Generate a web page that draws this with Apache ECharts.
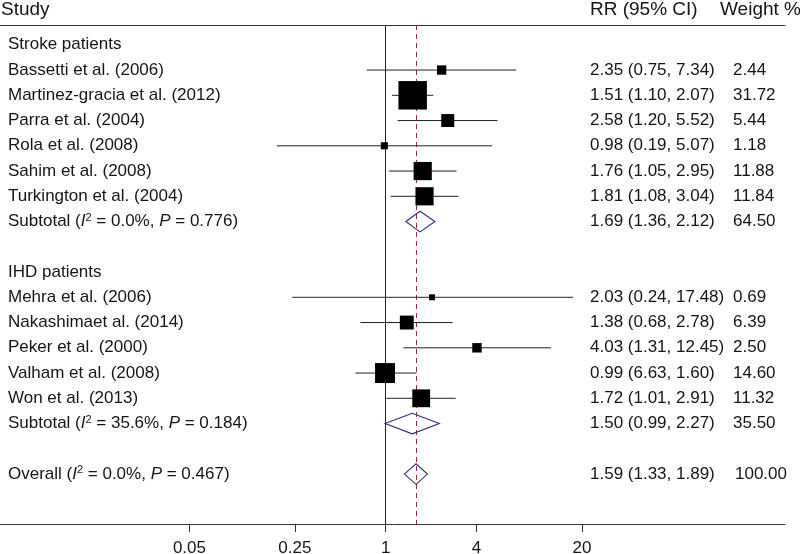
<!DOCTYPE html>
<html><head><meta charset="utf-8">
<script src="https://cdn.jsdelivr.net/npm/echarts@6/dist/echarts.min.js"></script>
<style>html,body{margin:0;padding:0;background:#fff}#c{width:800px;height:554px}</style>
</head><body><div id="c"></div>
<script>
// ---------------- data ----------------
const groupNames = ['Stroke patients', 'IHD patients'];

const strokeStudies = ['Bassetti et al. (2006)', 'Martinez-gracia et al. (2012)', 'Parra et al. (2004)', 'Rola et al. (2008)', 'Sahim et al. (2008)', 'Turkington et al. (2004)'];
const strokeRR     = [2.35, 1.51, 2.58, 0.98, 1.76, 1.81];
const strokeLow    = [0.75, 1.10, 1.20, 0.19, 1.05, 1.08];
const strokeHigh   = [7.34, 2.07, 5.52, 5.07, 2.95, 3.04];
const strokeWeight = [2.44, 31.72, 5.44, 1.18, 11.88, 11.84];
const strokeCIText = ['2.35 (0.75, 7.34)', '1.51 (1.10, 2.07)', '2.58 (1.20, 5.52)', '0.98 (0.19, 5.07)', '1.76 (1.05, 2.95)', '1.81 (1.08, 3.04)'];

const ihdStudies = ['Mehra et al. (2006)', 'Nakashimaet al. (2014)', 'Peker et al. (2000)', 'Valham et al. (2008)', 'Won et al. (2013)'];
const ihdRR     = [2.03, 1.38, 4.03, 0.99, 1.72];
const ihdLow    = [0.24, 0.68, 1.31, 0.63, 1.01];
const ihdHigh   = [17.48, 2.78, 12.45, 1.60, 2.91];
const ihdWeight = [0.69, 6.39, 2.50, 14.60, 11.32];
const ihdCIText = ['2.03 (0.24, 17.48)', '1.38 (0.68, 2.78)', '4.03 (1.31, 12.45)', '0.99 (6.63, 1.60)', '1.72 (1.01, 2.91)'];

const pooledNames  = ['Subtotal', 'Subtotal', 'Overall'];
const pooledI2     = ['0.0%', '35.6%', '0.0%'];
const pooledP      = ['0.776', '0.184', '0.467'];
const pooledRR     = [1.69, 1.50, 1.59];
const pooledLow    = [1.36, 0.99, 1.33];
const pooledHigh   = [2.12, 2.27, 1.89];
const pooledWeight = ['64.50', '35.50', '100.00'];
const pooledCIText = ['1.69 (1.36, 2.12)', '1.50 (0.99, 2.27)', '1.59 (1.33, 1.89)'];

const tickValues = [0.05, 0.25, 1, 4, 20];
const tickLabels = ['0.05', '0.25', '1', '4', '20'];
const headers = ['Study', 'RR (95% CI)', 'Weight %'];

// ---------------- build rows ----------------
const rows = [];
function addGroup(gi, names, rr, lo, hi, w, ci) {
  rows.push({kind: 'group', label: groupNames[gi]});
  names.forEach((n, i) => rows.push({kind: 'study', label: n, rr: rr[i], lo: lo[i], hi: hi[i], w: w[i], ci: ci[i], wt: w[i].toFixed(2)}));
  rows.push({kind: 'pooled', pi: gi});
  rows.push({kind: 'blank'});
}
addGroup(0, strokeStudies, strokeRR, strokeLow, strokeHigh, strokeWeight, strokeCIText);
addGroup(1, ihdStudies, ihdRR, ihdLow, ihdHigh, ihdWeight, ihdCIText);
rows.push({kind: 'pooled', pi: 2});
rows.forEach(r => {
  if (r.kind === 'pooled') {
    const p = r.pi;
    r.rr = pooledRR[p]; r.lo = pooledLow[p]; r.hi = pooledHigh[p];
    r.ci = pooledCIText[p]; r.wt = pooledWeight[p];
    r.rich = '{n|' + pooledNames[p] + ' (}{i|I}{s|2}{n| = ' + pooledI2[p] + ', }{i|P}{n| = ' + pooledP[p] + ')}';
  }
});

const studyData = [], pooledData = [], textData = [];
rows.forEach((r, idx) => {
  if (r.kind === 'study') studyData.push([r.rr, idx, r.lo, r.hi, r.w]);
  if (r.kind === 'pooled') pooledData.push([r.rr, idx, r.lo, r.hi]);
  if (r.kind !== 'blank') textData.push([1, idx]);
});

// ---------------- chart ----------------
const FONT = "'Liberation Sans', Arial, Helvetica, sans-serif";
const TXT = '#151515';
const FS = 17;
const chart = echarts.init(document.getElementById('c'), null, {renderer: 'canvas'});

function boxSize(w) { return Math.max(6, 2 + 4.7 * Math.sqrt(w)); }

const xMin = 0.002772, xMax = 444.3;

chart.setOption({
  animation: false,
  backgroundColor: '#fff',
  grid: {left: 0, right: 15, top: 25, bottom: 30, containLabel: false, outerBoundsMode: 'none'},
  xAxis: [{
    type: 'log', min: xMin, max: xMax, position: 'bottom',
    axisLine: {show: true, onZero: false, lineStyle: {color: '#333', width: 1}},
    axisTick: {show: true, customValues: tickValues, length: 8, lineStyle: {color: '#333', width: 1}},
    axisLabel: {show: true, customValues: tickValues, margin: 16, fontSize: FS, fontFamily: FONT, color: TXT,
      formatter: v => { const k = tickValues.findIndex(t => Math.abs(t - v) < 1e-9 * Math.max(1, t)); return k >= 0 ? tickLabels[k] : ''; }},
    splitLine: {show: false}
  }, {
    type: 'log', min: xMin, max: xMax, position: 'top',
    axisLine: {show: true, onZero: false, lineStyle: {color: '#333', width: 1}},
    axisTick: {show: false}, axisLabel: {show: false}, splitLine: {show: false}
  }],
  yAxis: {type: 'value', inverse: true, min: -0.784, max: 18.978, show: false},
  series: [{
    type: 'custom', name: 'studies', clip: false, z: 3,
    data: studyData,
    renderItem: (params, api) => {
      const c = api.coord([api.value(0), api.value(1)]);
      const l = api.coord([api.value(2), api.value(1)]);
      const h = api.coord([api.value(3), api.value(1)]);
      const s = boxSize(api.value(4));
      return {type: 'group', children: [
        {type: 'line', shape: {x1: l[0], y1: c[1], x2: h[0], y2: c[1]}, style: {stroke: '#222', lineWidth: 1}},
        {type: 'rect', shape: {x: c[0] - s / 2, y: c[1] - s / 2, width: s, height: s}, style: {fill: '#000'}}
      ]};
    },
    markLine: {
      silent: true, symbol: 'none', z: 1, label: {show: false},
      data: [
        {xAxis: 1, lineStyle: {color: '#222', width: 1, type: 'solid'}},
        {xAxis: pooledRR[2], lineStyle: {color: '#a3283a', width: 1, type: [5, 4]}}
      ]
    }
  }, {
    type: 'custom', name: 'pooled', clip: false, z: 3,
    data: pooledData,
    renderItem: (params, api) => {
      const c = api.coord([api.value(0), api.value(1)]);
      const l = api.coord([api.value(2), api.value(1)]);
      const h = api.coord([api.value(3), api.value(1)]);
      return {type: 'polygon', shape: {points: [[l[0], c[1]], [c[0], c[1] - 10.3], [h[0], c[1]], [c[0], c[1] + 10.3]]},
        style: {fill: 'none', stroke: '#2d2f80', lineWidth: 1.1}};
    }
  }, {
    type: 'custom', name: 'text', clip: false, z: 4,
    data: textData,
    renderItem: (params, api) => {
      const r = rows[api.value(1)];
      const y = api.coord([1, api.value(1)])[1];
      const base = {fill: TXT, fontSize: FS, fontFamily: FONT, verticalAlign: 'middle', align: 'left'};
      const kids = [];
      if (r.kind === 'pooled') {
        kids.push({type: 'text', style: Object.assign({}, base, {x: 8, y: y, text: r.rich, rich: {
          n: {fontSize: FS, fontFamily: FONT, fill: TXT},
          i: {fontSize: FS, fontFamily: FONT, fontStyle: 'italic', fill: TXT},
          s: {fontSize: 11, fontFamily: FONT, fill: TXT, verticalAlign: 'bottom', padding: [0, 0, 8, 0]}
        }})});
      } else {
        kids.push({type: 'text', style: Object.assign({}, base, {x: 8, y: y, text: r.label})});
      }
      if (r.ci) {
        kids.push({type: 'text', style: Object.assign({}, base, {x: 590, y: y, text: r.ci})});
        kids.push({type: 'text', style: Object.assign({}, base, {x: r.kind === 'pooled' && r.wt.length > 5 ? 735 : 733, y: y, text: r.wt})});
      }
      return {type: 'group', children: kids};
    }
  }],
  graphic: [
    {type: 'text', left: 1, top: 0, style: {text: headers[0], fontSize: 19, fontFamily: FONT, fill: TXT}},
    {type: 'text', left: 590, top: 0, style: {text: headers[1], fontSize: 19, fontFamily: FONT, fill: TXT}},
    {type: 'text', left: 720, top: 0, style: {text: headers[2], fontSize: 19, fontFamily: FONT, fill: TXT}}
  ]
});
</script></body></html>
